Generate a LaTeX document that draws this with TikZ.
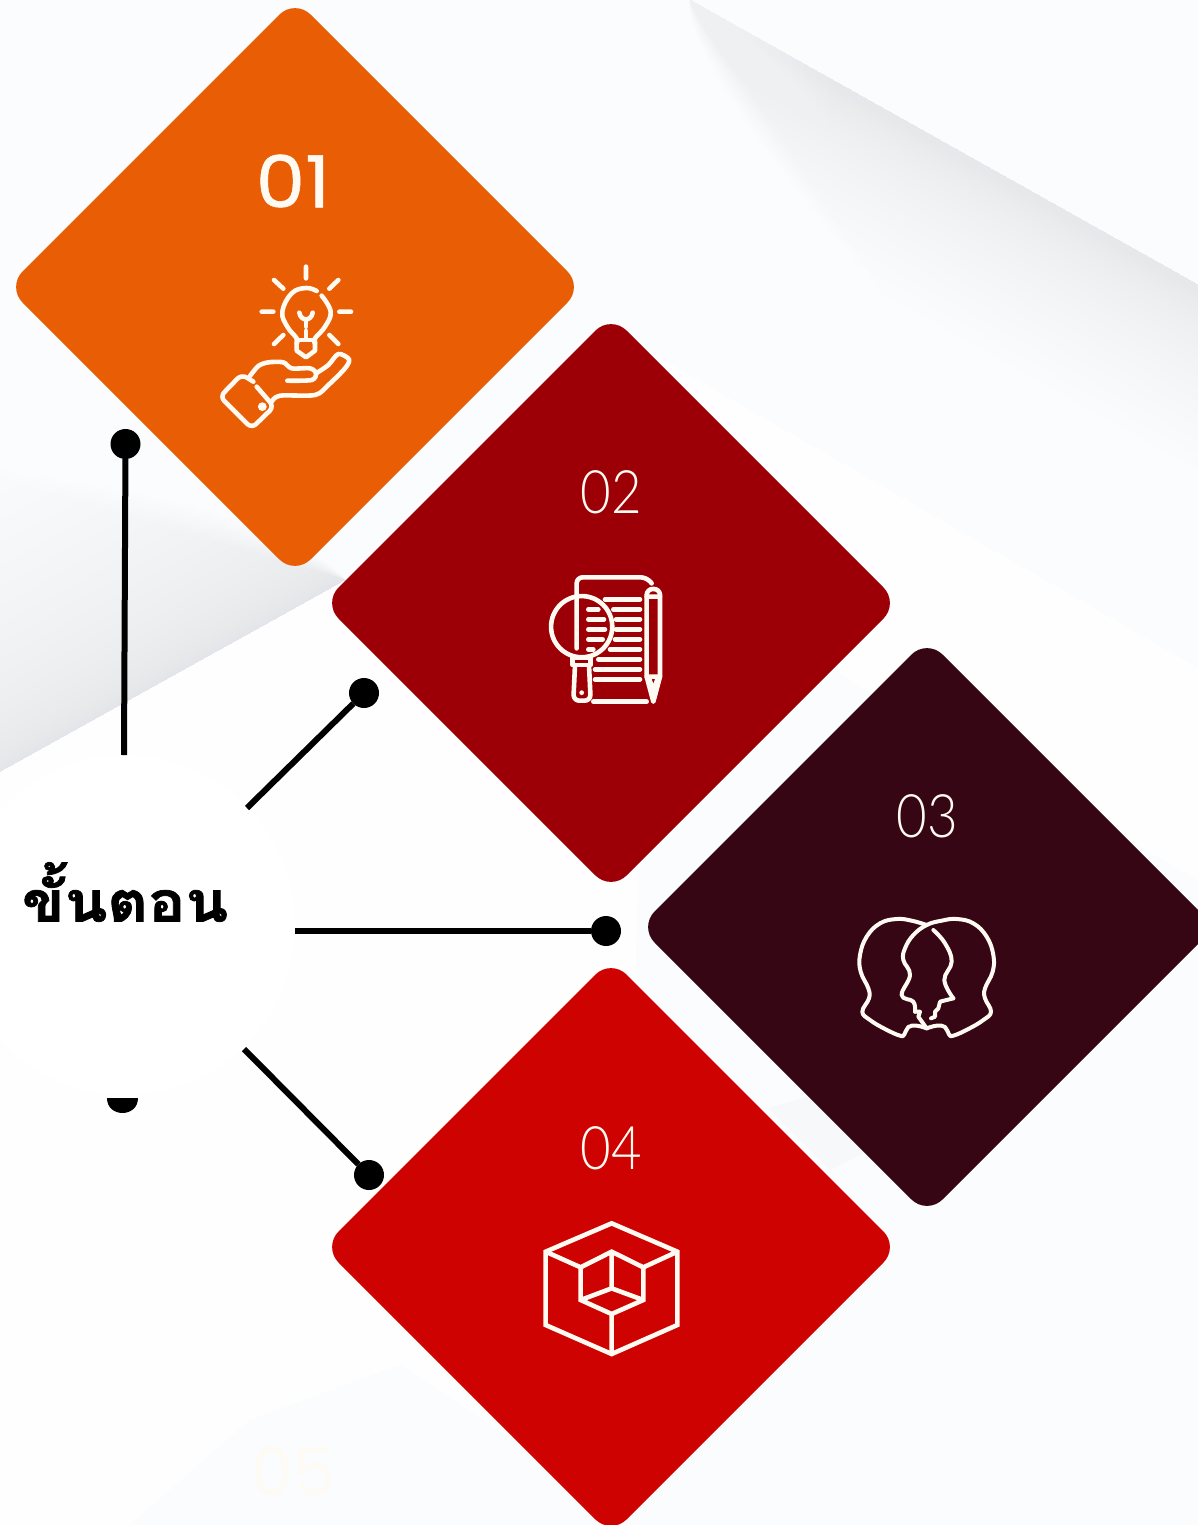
\documentclass[tikz,border=0pt]{standalone}
\usepackage{fontspec}
\usepackage{graphicx}
\usetikzlibrary{shapes.geometric}
\newfontfamily\thaifont[Script=Thai,BoldFeatures={FakeBold=1.3}]{Loma}
\newfontfamily\numfont[FakeBold=0.7]{Poppins}
\newfontfamily\fadefont{Poppins}
\newfontfamily\numlight{Lato Light}
\definecolor{inkwhite}{HTML}{FFFBF2}
\definecolor{orangeD}{HTML}{E95D04}
\definecolor{maroonD}{HTML}{9C0006}
\definecolor{plumD}{HTML}{370614}
\definecolor{redD}{HTML}{CE0200}
\definecolor{bgbase}{HTML}{FBFCFD}
\definecolor{bggrey}{HTML}{E6E8EB}
\definecolor{bgleft}{HTML}{E4E5EA}
\definecolor{bgsoft}{HTML}{FEFEFE}
\tikzset{
  dia/.style={diamond,aspect=1,minimum width=288pt,minimum height=288pt,inner sep=0pt,outer sep=0pt,rounded corners=11pt},
  icon/.style={draw=inkwhite,line width=2.3pt,line cap=round,line join=round},
  bar/.style={draw=black,line width=3pt},
  knob/.style={circle,fill=black,minimum size=15pt,inner sep=0pt,outer sep=0pt},
  num/.style={text=inkwhite,font=\numlight\fontsize{30}{30}\selectfont,inner sep=0pt}
}
\begin{document}
\begin{tikzpicture}[x=0.5pt,y=-0.5pt]
\useasboundingbox (0,0) rectangle (1198,1525);
\begin{scope}
\clip (0,0) rectangle (1198,1525);
\fill[bgbase] (0,0) rectangle (1198,1525);
% pale plane under diamond 2
\fill[bgsoft] (620,335) -- (1198,668) -- (1198,880) -- (640,560) -- cycle;
% pale lower left plane
\fill[bgsoft] (0,772) -- (345,580) -- (640,820) -- (620,1525) -- (0,1525) -- cycle;
\fill[bgbase] (130,1525) -- (250,1420) -- (400,1365) -- (640,1525) -- cycle;
% upper right soft band: dense steps near its ridge, fanned at the left end
\foreach \i in {1,...,24}{
  \pgfmathsetmacro{\d}{\i*\i*0.28}
  \pgfmathsetmacro{\r}{\i*0.08}
  \fill[bggrey,opacity=.024] (690,0) -- (1398,397) -- ({1398-0.49*\d},{397+0.873*\d}) -- ({690-0.49*\d+0.873*\d*\r},{0.873*\d+0.49*\d*\r}) -- cycle;
}
% fade the band out towards its upper left end
\foreach \i in {1,...,14}{
  \fill[bgbase,opacity=.08] (620,0) rectangle ({660+\i*12},320);
}
% left soft band, fanned at the right end
\foreach \i in {1,...,24}{
  \pgfmathsetmacro{\d}{\i*\i*0.5}
  \pgfmathsetmacro{\r}{\i*0.04}
  \fill[bgleft,opacity=.022] (-300,938) -- (345,580) -- ({345-0.494*\d-0.87*\d*\r},{580-0.87*\d+0.494*\d*\r}) -- ({-300-0.494*\d},{938-0.87*\d}) -- cycle;
}
% wedge between diamonds 3 and 4
\fill[bggrey,opacity=.2] (768,1108) -- (815,1095) -- (870,1150) -- (830,1170) -- cycle;
\end{scope}
% hub disc
\node[circle,fill=white,minimum size=170pt,inner sep=0pt] (hub) at (125,925) {};
% connector line ends at the disc
\coordinate (h1) at (124,755);
\coordinate (h2) at (247,808);
\coordinate (h3) at (295,931);
\coordinate (h4) at (244,1049);
% diamonds
\node[dia,fill=orangeD] (d1) at (295,287) {};
\node[dia,fill=maroonD] (d2) at (611,603) {};
\node[dia,fill=plumD] (d3) at (927,927) {};
\node[dia,fill=redD] (d4) at (611,1247) {};
% knobs
\node[knob] (k1) at (125.5,444) {};
\node[knob] (k2) at (364,693) {};
\node[knob] (k3) at (606,931) {};
\node[knob] (k4) at (369,1175) {};
\draw[bar] (h1) -- (k1);
\draw[bar] (h2) -- (k2);
\draw[bar] (h3) -- (k3);
\draw[bar] (h4) -- (k4);
% half dot
\fill[black] (107,1098) -- (138,1098) .. controls (138,1118) and (107,1118) .. (107,1098) -- cycle;
% labels
\node[text=black,font=\thaifont\bfseries\fontsize{28}{28}\selectfont,inner sep=0pt] (title) at (125,892) {\scalebox{1.115}[1]{ขั้นตอน}};
\node[text=inkwhite,font=\numfont\fontsize{36}{36}\selectfont,inner sep=0pt] (n1) at (293,181) {\scalebox{1.09}[1]{01}};
\node[num] (n2) at (611,492) {\scalebox{0.88}[1]{02}};
\node[num] (n3) at (927,816) {\scalebox{0.88}[1]{03}};
\node[num] (n4) at (611,1148) {\scalebox{0.88}[1]{04}};
\node[text=inkwhite,font=\fadefont\fontsize{33}{33}\selectfont,inner sep=0pt,opacity=.8] (n5) at (293,1471) {05};
% icon 1
\begin{scope}[shift={(200,130)},x=0.16667pt,y=-0.16667pt]
 \draw[icon] (318,410)--(318,445) (222,450)--(250,476) (415,450)--(388,476)
   (185,545)--(220,545) (418,545)--(453,545) (222,642)--(250,615) (415,642)--(388,615);
 \draw[icon] plot[smooth,tension=.7] coordinates {(350,483)(318,474)(275,490)(247,545)(262,590)(290,625)(290,640)};
 \draw[icon] plot[smooth,tension=.7] coordinates {(365,497)(392,545)(375,590)(345,625)(345,640)};
 \draw[icon] (290,630)--(345,630);
 \draw[icon] (290,635)--(290,662)--(318,682)--(345,662)--(345,635);
 \draw[icon] (298,548) .. controls (300,562) and (310,568) .. (318,568) .. controls (326,568) and (336,562) .. (338,548);
 \draw[icon] (318,568)--(318,590) (318,603)--(318,625);
 \draw[icon,rounded corners=3pt] (160,755)--(125,733)--(60,800)--(155,895)--(222,830)--(170,770);
 \fill[inkwhite] (187,830) circle[radius=2.2pt];
 \draw[icon] plot[smooth,tension=.5] coordinates {(150,738)(175,708)(205,697)(250,697)(275,715)(330,715)(348,730)(335,750)(262,752)};
 \draw[icon] plot[smooth,tension=.5] coordinates {(348,730)(385,705)(415,672)(447,688)(435,715)(385,765)(345,795)(240,797)(215,815)};
\end{scope}
% icon 2
\begin{scope}[shift={(530,560)},x=0.16667pt,y=-0.16667pt]
 \draw[icon,rounded corners=3pt] (140,265)--(140,52)--(350,52)--(365,70);
 \draw[icon] (190,425)--(350,425);
 \draw[icon] (225,118)--(330,118) (175,148)--(205,148) (250,148)--(330,148)
   (175,178)--(222,178) (258,178)--(330,178) (175,208)--(225,208) (258,208)--(330,208)
   (175,238)--(218,238) (255,238)--(330,238) (175,268)--(190,268) (240,268)--(330,268)
   (205,298)--(330,298) (195,328)--(330,328) (195,358)--(330,358);
 \draw[icon] (155,200) circle[radius=15.3pt];
 \draw[icon] (128,292) rectangle (182,315);
 \draw[icon,rounded corners=3pt] (135,315)--(130,422)--(182,422)--(177,315);
 \fill[inkwhite] (155,398) circle[radius=1.2pt];
 \draw[icon,rounded corners=3pt] (350,350)--(350,87)--(390,87)--(390,350);
 \draw[icon] (350,110)--(390,110) (350,350)--(370,425)--(390,350)--cycle (358,358)--(370,392)--(382,358);
\end{scope}
% icon 3
\begin{scope}[shift={(845,905)},x=0.16667pt,y=-0.16667pt]
 \draw[icon,line width=2pt] plot[smooth,tension=.7] coordinates {(245,60)(200,47)(155,42)(105,55)(65,95)(45,150)(47,200)(70,250)(72,280)(52,320)(75,345)(120,372)(165,392)(178,388)(190,366)(215,362)(245,370)};
 \draw[icon,line width=2pt] plot[smooth,tension=.7] coordinates {(245,370)(275,362)(300,366)(312,388)(325,392)(370,372)(415,345)(438,320)(420,280)(420,250)(443,200)(445,150)(425,95)(385,55)(335,42)(290,47)(245,60)(205,90)(180,130)(175,165)(195,210)(170,270)(205,290)(210,320)};
 \draw[icon,line width=2pt] (210,320)--(225,320)--(220,335)--(245,370);
 \draw[icon,line width=2pt] plot[smooth,tension=.7] coordinates {(265,75)(300,115)(320,170)(298,225)(325,280)};
 \draw[icon,line width=2pt] (325,280)--(285,290)--(280,310)--(270,320)--(270,335)--(258,340);
\end{scope}
% icon 4
\begin{scope}[shift={(530,1210)},x=0.16667pt,y=-0.16667pt]
 \draw[icon,line cap=butt,line join=miter] (245,40)--(442,125)--(442,345)--(245,432)--(47,345)--(47,125)--cycle;
 \draw[icon,line cap=butt,line join=miter] (47,125)--(152,172)--(245,125)--(340,172)--(442,125)
   (152,172)--(152,270)--(245,312)--(340,270)--(340,172)
   (245,312)--(245,432) (245,125)--(245,235) (152,270)--(245,235)--(340,270);
\end{scope}
\end{tikzpicture}
\end{document}
